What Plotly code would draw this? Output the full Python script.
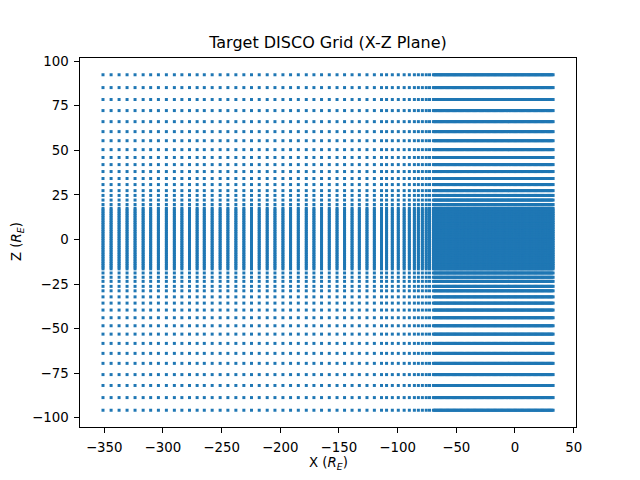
import numpy as np
import plotly.graph_objects as go

# X grid positions (R_E): coarse uniform, transition, dense core
x_coarse = [-351.0, -344.1, -337.3, -330.5, -323.7, -316.8, -310.4, -303.8, -297.0, -290.2,
            -283.8, -277.3, -270.8, -264.7, -258.0, -251.2, -244.6, -237.8, -231.0, -224.5,
            -217.9, -211.1, -204.5, -197.7, -191.2, -184.6, -177.8, -171.3, -164.8, -158.2,
            -151.6, -145.2, -138.8, -132.6, -126.1, -119.8, -113.7]
x_transition = [-109.4, -104.5, -99.4, -94.4, -90.0, -85.7, -82.3, -78.9, -75.6, -72.8]
x_dense = [-69.5, -68.5, -67.5, -66.5, -65.5, -64.5, -63.5, -62.5, -61.5, -60.5,
           -59.5, -58.5, -57.5, -56.5, -55.5, -54.5, -53.5, -52.5, -51.5, -50.5,
           -49.5, -48.5, -47.5, -46.5, -45.5, -44.5, -43.5, -42.5, -41.5, -40.5,
           -39.5, -38.5, -37.5, -36.5, -35.5, -34.5, -33.5, -32.5, -31.5, -30.5,
           -29.5, -28.5, -27.5, -26.5, -25.5, -24.5, -23.5, -22.5, -21.5, -20.5,
           -19.5, -18.5, -17.5, -16.5, -15.5, -14.5, -13.5, -12.5, -11.5, -10.5,
           -9.5, -8.5, -7.5, -6.5, -5.5, -4.5, -3.5, -2.5, -1.5, -0.5,
           0.5, 1.5, 2.5, 3.5, 4.5, 5.5, 6.5, 7.5, 8.5, 9.5,
           10.5, 11.5, 12.5, 13.5, 14.5, 15.5, 16.5, 17.5, 18.5, 19.5,
           20.5, 21.5, 22.5, 23.5, 24.5, 25.5, 26.5, 27.5, 28.5, 29.5,
           30.5, 31.5, 32.5]

# Z grid positions (R_E)
z_upper = [92.4, 85.2, 78.5, 72.3, 66.1, 60.5, 55.4, 50.4, 46.0, 42.0,
           38.1, 34.2, 30.8, 27.4, 24.7, 22.1, 19.6]
z_dense = [17.5, 16.5, 15.5, 14.5, 13.5, 12.5, 11.5, 10.5, 9.5, 8.5,
           7.5, 6.5, 5.5, 4.5, 3.5, 2.5, 1.5, 0.5, -0.5, -1.5,
           -2.5, -3.5, -4.5, -5.5, -6.5, -7.5, -8.5, -9.5, -10.5, -11.5,
           -12.5, -13.5, -14.5, -15.5, -16.5]
z_lower = [-18.8, -21.2, -23.5, -26.3, -28.8, -32.2, -35.7, -39.6, -43.9, -48.4,
           -53.1, -58.3, -63.9, -69.5, -75.8, -81.9, -88.7, -95.8]

x_ticks = [-350, -300, -250, -200, -150, -100, -50, 0, 50]
z_ticks = [-100, -75, -50, -25, 0, 25, 50, 75, 100]

xs = np.array(x_coarse + x_transition + x_dense)
zs = np.array(z_upper + z_dense + z_lower)
X, Z = np.meshgrid(xs, zs)

def lab(v):
    return ("\u2212" + str(abs(v))) if v < 0 else str(v)

fig = go.Figure()
fig.add_trace(go.Scatter(
    x=X.ravel(), y=Z.ravel(), mode="markers",
    marker=dict(symbol="square", size=3, color="#1f77b4", line=dict(width=0)),
    hoverinfo="skip", showlegend=False,
))

font = dict(family="DejaVu Sans", size=13.33, color="black")
axis_common = dict(showgrid=False, zeroline=False, showline=True, linecolor="black",
                   linewidth=1, mirror=True, ticks="outside", ticklen=4.7, tickwidth=1,
                   tickcolor="black", tickfont=font, ticklabelstandoff=3)

fig.update_layout(
    width=640, height=480,
    margin=dict(l=80, r=64, t=57.6, b=52.8),
    paper_bgcolor="white", plot_bgcolor="white",
    font=font,
    title=dict(text="Target DISCO Grid (X-Z Plane)", x=0.5, xanchor="center",
               xref="paper", y=1 - 42 / 480, yanchor="middle", yref="container",
               font=dict(family="DejaVu Sans", size=16, color="black")),
    xaxis=dict(range=[-370.6, 52.0], tickvals=x_ticks,
               ticktext=[lab(v) for v in x_ticks], **axis_common),
    yaxis=dict(range=[-105.2, 101.8], tickvals=z_ticks,
               ticktext=[lab(v) for v in z_ticks], **axis_common),
    annotations=[
        dict(text="X (<i>R</i><sub><i>E</i></sub>)", xref="paper", yref="paper",
             x=0.5, y=(427.2 - 464) / 369.6, xanchor="center", yanchor="middle",
             showarrow=False, font=font),
        dict(text="Z (<i>R</i><sub><i>E</i></sub>)", xref="paper", yref="paper",
             x=(17 - 80) / 496, y=(427.2 - 242) / 369.6, xanchor="center",
             yanchor="middle", textangle=-90, showarrow=False, font=font),
    ],
)

fig.write_html("out.html")
